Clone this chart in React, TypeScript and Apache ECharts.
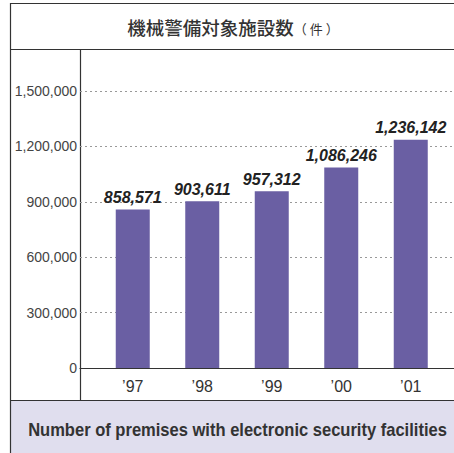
import React, { useEffect, useRef } from "react";
import * as echarts from "echarts";

const categories = ["’97", "’98", "’99", "’00", "’01"];
const values = [858571, 903611, 957312, 1086246, 1236142];
const yTicks = [0, 300000, 600000, 900000, 1200000, 1500000];
const titleMain = "機械警備対象施設数";
const titleUnit = "（ 件 ）";
const footerText = "Number of premises with electronic security facilities";

const fmt = (v: number) => v.toLocaleString("en-US");
const sans = "'Liberation Sans', Arial, sans-serif";

function measure(text: string, font: string): number {
  const c = document.createElement("canvas");
  const ctx = c.getContext("2d");
  if (!ctx) return 0;
  ctx.font = font;
  return ctx.measureText(text).width;
}

export default function App() {
  const ref = useRef<HTMLDivElement>(null);
  useEffect(() => {
    document.body.style.margin = "0";
    const chart = echarts.init(ref.current!, null, { renderer: "svg" });
    const yMax = yTicks[yTicks.length - 1];
    const footW = measure(footerText, "bold 18px 'Liberation Sans'");
    const footScale = footW > 0 ? 419 / footW : 0.8;
    chart.setOption({
      animation: false,
      backgroundColor: "#ffffff",
      grid: [
        { left: 80, right: 0, top: 91, bottom: 85 },
        { left: 98, right: 8.5, top: 91, bottom: 85 },
      ],
      xAxis: [
        {
          gridIndex: 0,
          type: "category",
          data: categories,
          axisLine: { show: true, lineStyle: { color: "#333", width: 1.2 } },
          axisTick: { show: false },
          axisLabel: { show: false },
        },
        {
          gridIndex: 1,
          type: "category",
          data: categories,
          axisLine: { show: false },
          axisTick: { show: false },
          axisLabel: {
            color: "#333",
            fontSize: 16,
            fontFamily: sans,
            margin: 10,
          },
        },
      ],
      yAxis: [
        {
          gridIndex: 0,
          type: "value",
          min: 0,
          max: yMax,
          interval: 300000,
          axisLine: { show: false },
          axisTick: { show: false },
          axisLabel: {
            color: "#444",
            fontSize: 14,
            fontFamily: sans,
            margin: 3,
            formatter: (v: number) => fmt(v),
          },
          splitLine: {
            show: true,
            lineStyle: { color: "#999", type: [2, 3], width: 1 },
          },
        },
        {
          gridIndex: 1,
          type: "value",
          min: 0,
          max: yMax,
          interval: 300000,
          axisLine: { show: false },
          axisTick: { show: false },
          axisLabel: { show: false },
          splitLine: { show: false },
        },
      ],
      series: [
        {
          type: "bar",
          xAxisIndex: 1,
          yAxisIndex: 1,
          data: values,
          barWidth: 34,
          itemStyle: { color: "#6a5fa3" },
          label: {
            show: true,
            position: "top",
            distance: 4,
            color: "#222",
            fontSize: 16,
            fontWeight: "bold",
            fontStyle: "italic",
            fontFamily: sans,
            formatter: (p: any) => fmt(p.value),
          },
        },
      ],
      graphic: [
        {
          type: "rect",
          shape: { x: 10, y: 400, width: 444, height: 53 },
          style: { fill: "#e0deee" },
          silent: true,
        },
        {
          type: "line",
          shape: { x1: 10.5, y1: 3, x2: 10.5, y2: 453 },
          style: { stroke: "#333", lineWidth: 1.2 },
        },
        {
          type: "line",
          shape: { x1: 10, y1: 3.5, x2: 454, y2: 3.5 },
          style: { stroke: "#333", lineWidth: 1.2 },
        },
        {
          type: "line",
          shape: { x1: 10, y1: 49.5, x2: 454, y2: 49.5 },
          style: { stroke: "#333", lineWidth: 1.2 },
        },
        {
          type: "line",
          shape: { x1: 80.5, y1: 49, x2: 80.5, y2: 400 },
          style: { stroke: "#333", lineWidth: 1.2 },
        },
        {
          type: "line",
          shape: { x1: 10, y1: 400.5, x2: 454, y2: 400.5 },
          style: { stroke: "#333", lineWidth: 1.2 },
        },
        {
          type: "text",
          x: 233,
          y: 27,
          style: {
            text: "{a|" + titleMain + "}{b|" + titleUnit + "}",
            align: "center",
            verticalAlign: "middle",
            rich: {
              a: {
                fontSize: 18.5,
                fontFamily: "'Noto Sans CJK JP', sans-serif",
                fontWeight: 500,
                fill: "#333",
              },
              b: {
                fontSize: 13,
                fontFamily: "'Noto Sans CJK JP', sans-serif",
                fill: "#333",
                padding: [3, 0, 0, 0],
              },
            },
          },
        },
        {
          type: "text",
          x: 237.5,
          y: 430,
          scaleX: footScale,
          style: {
            text: footerText,
            align: "center",
            verticalAlign: "middle",
            fontSize: 18,
            fontWeight: "bold",
            fontFamily: sans,
            fill: "#333",
          },
        },
      ],
    });
    return () => chart.dispose();
  }, []);
  return <div ref={ref} style={{ width: 454, height: 453 }} />;
}
